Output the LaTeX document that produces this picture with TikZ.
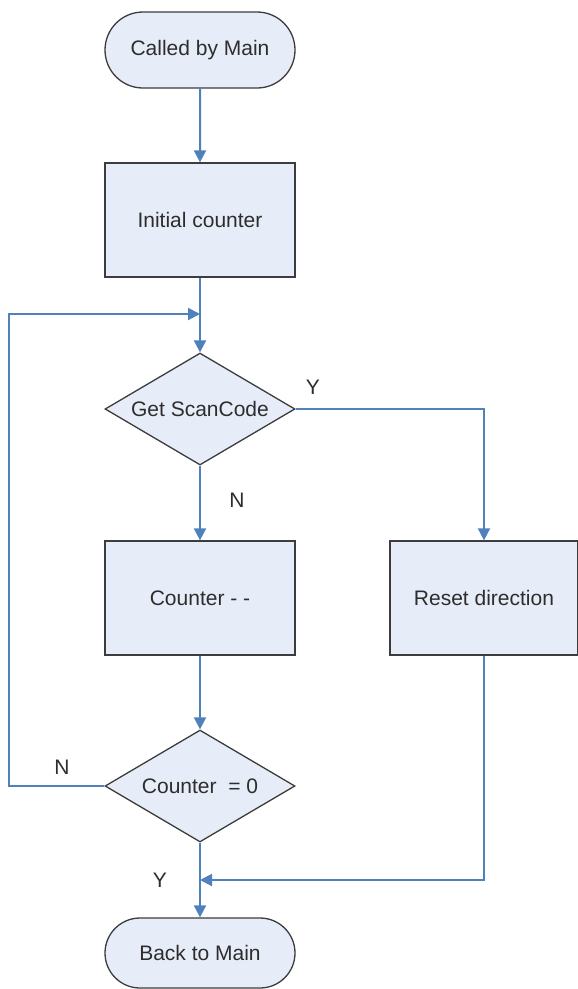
\documentclass[tikz,border=0pt]{standalone}
\usepackage{fontspec}
\setmainfont{Liberation Sans}
\usetikzlibrary{arrows.meta,shapes.geometric,shapes.misc}
\definecolor{flowblue}{RGB}{79,129,189}
\definecolor{boxfill}{RGB}{231,237,248}
\definecolor{boxline}{RGB}{60,60,60}
\definecolor{txt}{RGB}{45,45,45}

\begin{document}
\begin{tikzpicture}[x=1pt,y=-1pt,
    font=\fontsize{21}{25}\selectfont,text=txt,
    base/.style={draw=boxline,fill=boxfill,line width=1.3pt,inner sep=0pt},
    term/.style={base,rounded rectangle,minimum width=190pt,minimum height=76pt},
    proc/.style={base,rectangle,minimum width=190pt,minimum height=114pt},
    decide/.style={base,diamond,aspect=1.7,minimum width=190pt,minimum height=112pt},
    flow/.style={flowblue,line width=2pt,-{Triangle[length=12pt,width=12pt]}}]
  \useasboundingbox (0,0) rectangle (578,989);

  % boxes
  \node[term]   (start) at (200,50)  {Called by Main};
  \node[proc]   (init)  at (200,220) {Initial counter};
  \node[decide] (scan)  at (200,409) {Get ScanCode};
  \node[proc]   (dec)   at (200,598) {Counter - -};
  \node[proc, minimum width=188pt] (reset) at (484,598) {Reset direction};
  \node[decide] (cz)    at (200,786) {Counter\ \ = 0};
  \node[term, minimum height=70pt] (back) at (200,953) {Back to Main};

  \coordinate (loopin)  at (200,314);
  \coordinate (mergein) at (200,880);

  % connectors
  \draw[flow] (start) -- (init);
  \draw[flow] (init) -- (scan);
  \draw[flow] (scan.east) -| (reset.north);
  \draw[flow] (scan) -- (dec);
  \draw[flow] (dec) -- (cz);
  \draw[flow] (cz.west) -- ++(-95,0) |- (loopin);
  \draw[flow] (cz) -- (back);
  \draw[flow] (reset.south) |- (mergein);

  % labels
  \node (ly1) at (313,387) {Y};
  \node (ln1) at (237,500) {N};
  \node (ln2) at (62,767)  {N};
  \node (ly2) at (160,880) {Y};
\end{tikzpicture}
\end{document}
